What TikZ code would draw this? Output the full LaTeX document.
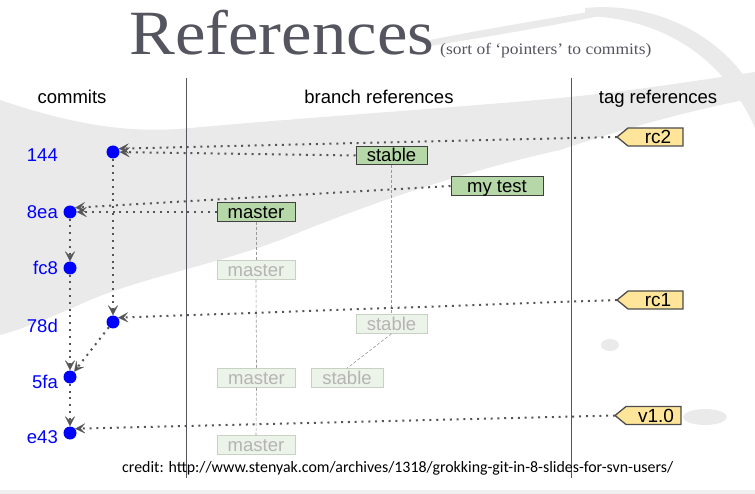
\documentclass[tikz,border=0pt]{standalone}
\usepackage{fontspec}
\setmainfont{Liberation Sans}
\newfontfamily\titlefont[FakeStretch=1.09]{Liberation Serif}
\newfontfamily\creditfont{Carlito}
\usetikzlibrary{arrows.meta,calc}

\definecolor{titlegrey}{HTML}{55555F}
\definecolor{brush}{HTML}{EAEAEA}
\definecolor{rulegrey}{HTML}{55555F}
\definecolor{linkgrey}{HTML}{555555}
\definecolor{branchfill}{HTML}{B6D7A8}
\definecolor{oldfill}{HTML}{ECF3E8}
\definecolor{oldline}{HTML}{C9D1C5}
\definecolor{oldtext}{HTML}{B4B4B4}
\definecolor{tagfill}{HTML}{FFE599}
\definecolor{commitblue}{HTML}{0000FF}

\tikzset{
  head/.style={anchor=base, inner sep=0pt, font=\fontsize{18.5}{20}\selectfont},
  commit/.style={circle, fill=commitblue, minimum size=13pt, inner sep=0pt},
  clabel/.style={anchor=base east, inner sep=0pt, text=commitblue, font=\fontsize{18.5}{20}\selectfont},
  branch/.style={draw=black!75, line width=1pt, fill=branchfill, inner sep=0pt,
    minimum height=18.5pt, text height=14pt, text depth=1pt,
    font=\fontsize{18.5}{20}\selectfont},
  oldbranch/.style={branch, draw=oldline, fill=oldfill, text=oldtext},
  tagshape/.style={draw=black!70, line width=1.3pt, fill=tagfill, line join=miter},
  tagtext/.style={inner sep=0pt, text height=14pt, text depth=1pt, font=\fontsize{19}{20}\selectfont},
  link/.style={draw=linkgrey, line width=2pt, line cap=butt, dash pattern=on 2pt off 4.8pt,
    -{Stealth[length=10pt, width=10pt, inset=4.5pt, line width=0.1pt]}},
  trail/.style={draw=black!40, line width=0.6pt, dash pattern=on 3pt off 2pt},
  divider/.style={draw=rulegrey, line width=0.8pt},
}

% a yellow tag flag pointing left; #1 names its tip
\newcommand\tagflag[4]{% #1 name, #2 right edge, #3 centre y, #4 label
  \filldraw[tagshape] (#2,#3-9) -- (#2,#3+9) -- (#2-55,#3+9) -- (#2-66,#3) coordinate (#1)
    -- (#2-55,#3-9) -- cycle;
  \node[tagtext] (#1label) at (#2-25,#3) {#4};
}

\begin{document}
\begin{tikzpicture}[x=1pt, y=-1pt]
\useasboundingbox (0,0) rectangle (755,494);

% brush-stroke backdrop
\fill[brush] (0,100) .. controls (60,120) and (120,135) .. (190,128)
  .. controls (300,118) and (450,108) .. (560,98)
  .. controls (640,90) and (700,80) .. (755,72) -- (755,98)
  .. controls (690,110) and (620,130) .. (560,150)
  .. controls (470,170) and (380,200) .. (300,232)
  .. controls (230,262) and (150,275) .. (90,300)
  .. controls (50,318) and (20,330) .. (0,335) -- cycle;
\fill[brush] (585,8) .. controls (670,0) and (735,50) .. (755,95) -- (755,128)
  .. controls (725,60) and (665,18) .. (585,16) -- cycle;
\fill[brush] (430,40) .. controls (480,30) and (540,20) .. (600,10) -- (600,16)
  .. controls (540,28) and (480,38) .. (430,46) -- cycle;
\fill[brush] (705,417) ellipse [x radius=22, y radius=8];
\fill[brush] (610,345) ellipse [x radius=9, y radius=6];
\fill[black!6] (0,490) rectangle (755,494);

% title
\node[anchor=base west, inner sep=0pt, text=titlegrey, font=\titlefont\fontsize{63}{63}\selectfont]
  (title) at (129,55) {References};
\node[anchor=base west, inner sep=0pt, text=titlegrey, font=\titlefont\fontsize{16}{16}\selectfont]
  (subtitle) at (440,55) {(sort of ‘pointers’ to commits)};

% column dividers
\coordinate (d1top) at (186,78);
\coordinate (d1bot) at (186,478);
\coordinate (d2top) at (571,78);
\coordinate (d2bot) at (571,478);
\draw[divider] (d1top) -- (d1bot);
\draw[divider] (d2top) -- (d2bot);

% column headings
\node[head] (hcommits) at (72,104) {commits};
\node[head] (hbranch) at (379,104) {branch references};
\node[head] (htag) at (658,104) {tag references};

% commits
\node[commit] (c144) at (113,152) {};
\node[commit] (c8ea) at (70,212) {};
\node[commit] (cfc8) at (70,268) {};
\node[commit] (c78d) at (113,322) {};
\node[commit] (c5fa) at (70,377) {};
\node[commit] (ce43) at (70,433) {};

\node[clabel] (l144) at (58,161.5) {144};
\node[clabel] (l8ea) at (58,218.5) {8ea};
\node[clabel] (lfc8) at (58,274.5) {fc8};
\node[clabel] (l78d) at (58,332) {78d};
\node[clabel] (l5fa) at (58,388.5) {5fa};
\node[clabel] (le43) at (58,443.5) {e43};

% earlier branch positions
\node[oldbranch, minimum width=78pt] (master2) at (256,270) {master};
\node[oldbranch, minimum width=71pt] (stable2) at (391.5,324) {stable};
\node[oldbranch, minimum width=78pt] (master3) at (256.5,378) {master};
\node[oldbranch, minimum width=72pt] (stable3) at (347,378) {stable};
\node[oldbranch, minimum width=78pt] (master4) at (256,445) {master};

% current branches
\node[branch, minimum width=71pt] (stable) at (391.5,155.5) {stable};
\node[branch, minimum width=92pt] (mytest) at (497,186) {my test};
\node[branch, minimum width=78pt] (master) at (256,212) {master};

% branch history trails
\draw[trail] (master.south) -- (master2.north);
\draw[trail] (master2.south) -- (master3.north);
\draw[trail] (master3.south) -- (master4.north);
\draw[trail] (stable.south) -- (stable2.north);
\draw[trail] (stable2.south) -- (stable3.north);

% tags
\tagflag{rc2}{683}{137}{rc2}
\tagflag{rc1}{683}{300}{rc1}
\tagflag{v10}{681}{415.5}{v1.0}

% parent links
\draw[link] (c144) -- (c78d);
\draw[link] (c8ea) -- (cfc8);
\draw[link] (cfc8) -- (c5fa);
\draw[link] (c78d) -- (c5fa);
\draw[link] (c5fa) -- (ce43);

% references to commits
\draw[link] (rc2) -- (c144.30);
\draw[link] (stable.west) -- (c144);
\draw[link] (mytest.west) -- (c8ea.40);
\draw[link] (master.west) -- (c8ea);
\draw[link] (rc1) -- (c78d.40);
\draw[link] (v10) -- (ce43.40);

% credit line
\node[anchor=base west, inner sep=0pt, font=\creditfont\fontsize{15.9}{16}\selectfont]
  (credit) at (122,472) {credit: http://www.stenyak.com/archives/1318/grokking-git-in-8-slides-for-svn-users/};
\end{tikzpicture}
\end{document}
